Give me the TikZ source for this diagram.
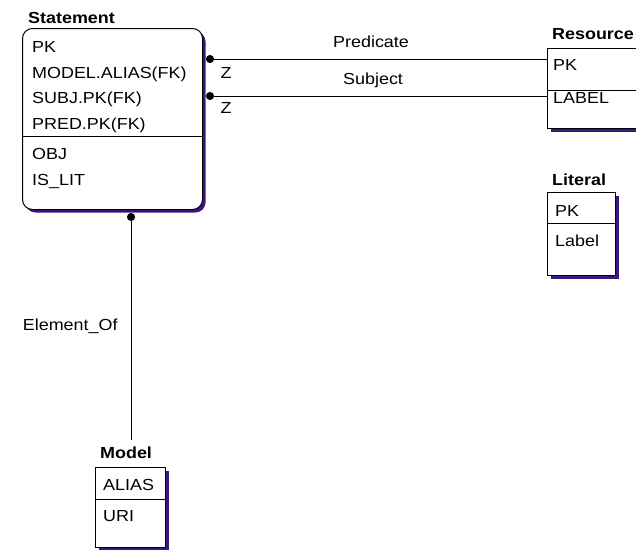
\documentclass[tikz,border=0pt]{standalone}
\usepackage{fontspec}
\setmainfont{Liberation Sans}[FakeStretch=1.12]
\usetikzlibrary{arrows.meta,shadows}
\definecolor{shadowpurple}{RGB}{58,22,128}
\tikzset{
  entity/.style={draw, rectangle, fill=white, line width=1pt, anchor=north west, inner sep=0pt,
    general shadow={fill=shadowpurple, shadow xshift=3pt, shadow yshift=-3pt}},
  etitle/.style={anchor=base west, inner sep=0pt, font=\fontsize{16}{18}\selectfont\bfseries},
  attr/.style={anchor=base west, inner sep=0pt, font=\fontsize{16}{18}\selectfont},
  rel/.style={line width=1pt, {Circle[length=8pt,width=8pt]}-},
  lbl/.style={font=\fontsize{16}{18}\selectfont, inner sep=0pt}
}
\begin{document}
\begin{tikzpicture}[x=1pt, y=-1pt]
    \useasboundingbox (0,0) rectangle (636,549);

    % Statement entity
    \node[entity, rounded corners=10pt, minimum width=180pt, minimum height=181pt] (stmt) at (22,28) {};
    \node[etitle] (stmtT) at (28,23) {Statement};
    \node[attr] (stmtA) at (32,52) {PK};
    \node[attr] (stmtB) at (32,78) {MODEL.ALIAS(FK)};
    \node[attr] (stmtC) at (32,103) {SUBJ.PK(FK)};
    \node[attr] (stmtD) at (32,129) {PRED.PK(FK)};
    \draw[line width=1pt] (stmt.west |- 0,136) -- (stmt.east |- 0,136);
    \node[attr] (stmtE) at (32,159) {OBJ};
    \node[attr] (stmtF) at (32,185) {IS\_LIT};

    % Resource entity
    \node[entity, minimum width=100pt, minimum height=80pt] (res) at (547,48) {};
    \node[etitle] (resT) at (552,39) {Resource};
    \node[attr] (resA) at (553,70) {PK};
    \draw[line width=1pt] (res.west |- 0,90) -- (res.east |- 0,90);
    \node[attr] (resB) at (553,103) {LABEL};

    % Literal entity
    \node[entity, minimum width=68pt, minimum height=83pt] (lit) at (547,192) {};
    \node[etitle] (litT) at (552,185) {Literal};
    \node[attr] (litA) at (555,216) {PK};
    \draw[line width=1pt] (lit.west |- 0,223) -- (lit.east |- 0,223);
    \node[attr] (litB) at (555,246) {Label};

    % Model entity
    \node[entity, minimum width=70pt, minimum height=80pt] (model) at (95,467) {};
    \node[etitle] (modelT) at (100,458) {Model};
    \node[attr] (modelA) at (103,490) {ALIAS};
    \draw[line width=1pt] (model.west |- 0,499) -- (model.east |- 0,499);
    \node[attr] (modelB) at (103,521) {URI};

    % Relationships
    \draw[rel] ([xshift=3pt]stmt.east |- 0,59) -- node[lbl, pos=.484, anchor=base, yshift=12pt] {Predicate}
        node[lbl, pos=0, anchor=base west, xshift=14pt, yshift=-19pt] {Z} (res.west |- 0,59);
    \draw[rel] ([xshift=3pt]stmt.east |- 0,96) -- node[lbl, pos=.49, anchor=base, yshift=12pt] {Subject}
        node[lbl, pos=0, anchor=base west, xshift=14pt, yshift=-17pt] {Z} (res.west |- 0,96);
    \draw[rel] ([yshift=-3pt]stmt.south -| 131,0) -- node[lbl, pos=.5, anchor=base east, xshift=-13pt, yshift=-4pt] {Element\_Of} (131,440);
\end{tikzpicture}
\end{document}
